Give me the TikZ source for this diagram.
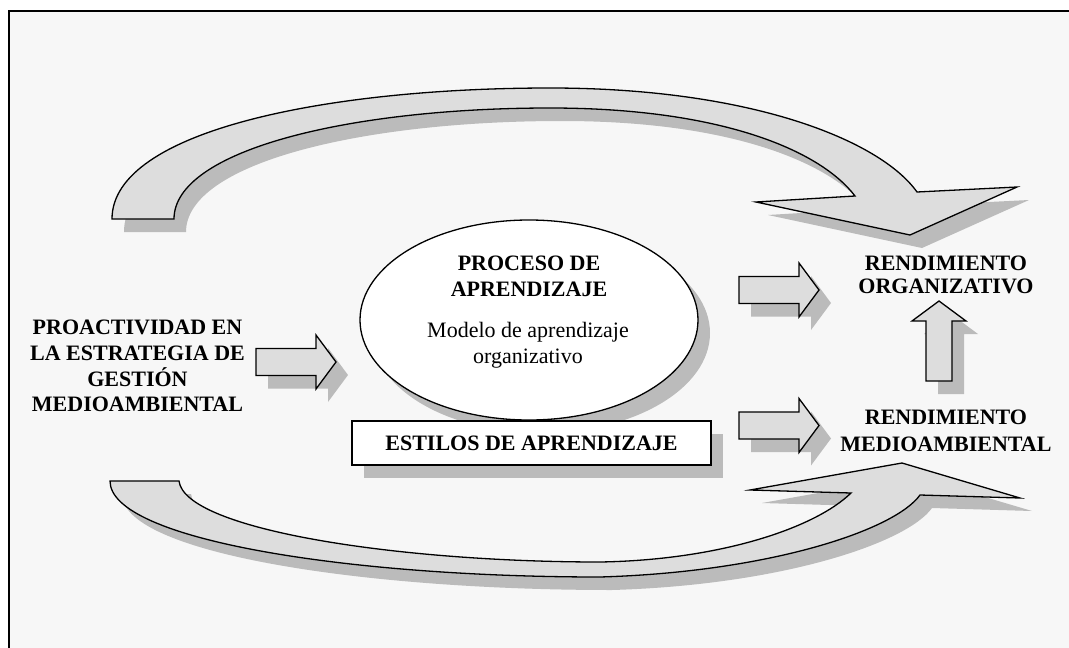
\documentclass[tikz,border=0pt]{standalone}
\usepackage{fontspec}
\setmainfont{Liberation Serif}
\usetikzlibrary{shapes.geometric,shadows}
\definecolor{pagebg}{HTML}{F7F7F7}
\definecolor{arrowgray}{HTML}{DDDDDD}
\definecolor{shadowgray}{HTML}{BBBBBB}
\begin{document}
\begin{tikzpicture}[x=1pt,y=-1pt,
  edgeline/.style={draw=black,line width=1.3pt,line join=miter},
  arrowface/.style={edgeline,fill=arrowgray},
  dropfill/.style={fill=shadowgray,draw=none,shift={(12,13)}},
  boxshadow/.style={drop shadow={shadow xshift=12pt,shadow yshift=-13pt,fill=shadowgray,opacity=1}},
  heading/.style={font=\bfseries\fontsize{22}{#1}\selectfont,align=center,inner sep=0pt},
  heading/.default=26,
  plaintext/.style={font=\fontsize{22}{26}\selectfont,align=center,inner sep=0pt},
  % straight block arrow pointing right, tail centre at (#1,#2)
  rightarrow/.style 2 args={insert path={(#1,#2-13.5) -- ++(60,0) -- ++(0,-13.5)
      -- ++(20,27) -- ++(-20,27) -- ++(0,-13.5) -- ++(-60,0) -- cycle}},
  % straight block arrow pointing up, tail centre at (#1,#2)
  uparrow/.style 2 args={insert path={(#1-13,#2) -- ++(0,-60) -- ++(-14,0)
      -- ++(27,-20) -- ++(27,20) -- ++(-14,0) -- ++(0,60) -- cycle}},
  % curved feedback arrow over the top
  topcurve/.style={insert path={(112,219) -- (174,219)
      .. controls (174,150) and (350,108) .. (550,108)
      .. controls (720,108) and (820,150) .. (855,196)
      -- (756,202) -- (910,235) -- (1017,187) -- (917,192)
      .. controls (880,140) and (750,88) .. (550,88)
      .. controls (330,88) and (112,130) .. (112,219) -- cycle}},
  % curved arrow along the bottom
  bottomcurve/.style={insert path={(110,481) -- (179,481)
      .. controls (185,530) and (400,562) .. (600,562)
      .. controls (720,560) and (815,528) .. (851,493)
      -- (750,490) -- (902,463) -- (1020,498) -- (920,495)
      .. controls (895,530) and (770,572) .. (600,577)
      .. controls (350,577) and (110,540) .. (110,481) -- cycle}}
]
\useasboundingbox (0,0) rectangle (1069,648);
\clip (0,0) rectangle (1069,648);
\fill[white] (0,0) rectangle (1069,648);
% frame
\draw[line width=2pt,fill=pagebg] (9,11) rectangle (1085,670);

% shadows of the block arrows
\fill[dropfill,topcurve];
\fill[dropfill,bottomcurve];
\fill[dropfill,rightarrow={256}{362}];
\fill[dropfill,rightarrow={739}{290}];
\fill[dropfill,rightarrow={739}{425.5}];
\fill[dropfill,uparrow={939}{381}];

% block arrows
\path[arrowface,topcurve];
\path[arrowface,bottomcurve];
\path[arrowface,rightarrow={256}{362}];
\path[arrowface,rightarrow={739}{290}];
\path[arrowface,rightarrow={739}{425.5}];
\path[arrowface,uparrow={939}{381}];

% learning process ellipse and learning styles box
\node[ellipse,edgeline,fill=white,minimum width=338,minimum height=200,inner sep=0pt,boxshadow]
  (proceso) at (529,320) {};
\node[edgeline,fill=white,minimum width=359,minimum height=44,inner sep=0pt,boxshadow,
  font=\bfseries\fontsize{22}{26}\selectfont]
  (estilos) at (531.5,443) {ESTILOS DE APRENDIZAJE};

% texts
\node[heading=25.7,anchor=north] (proact) at (137.5,320)
  {PROACTIVIDAD EN\\LA ESTRATEGIA DE\\GESTIÓN\\MEDIOAMBIENTAL};
\node[heading,anchor=north] (ptitle) at (529,256) {PROCESO DE\\APRENDIZAJE};
\node[plaintext,anchor=north] (pmodel) at (528,322) {Modelo de aprendizaje\\organizativo};
\node[heading=22.5,anchor=north] (rorg) at (946,256) {RENDIMIENTO\\ORGANIZATIVO};
\node[heading=27,anchor=north] (rmed) at (946,410) {RENDIMIENTO\\MEDIOAMBIENTAL};
\end{tikzpicture}
\end{document}
